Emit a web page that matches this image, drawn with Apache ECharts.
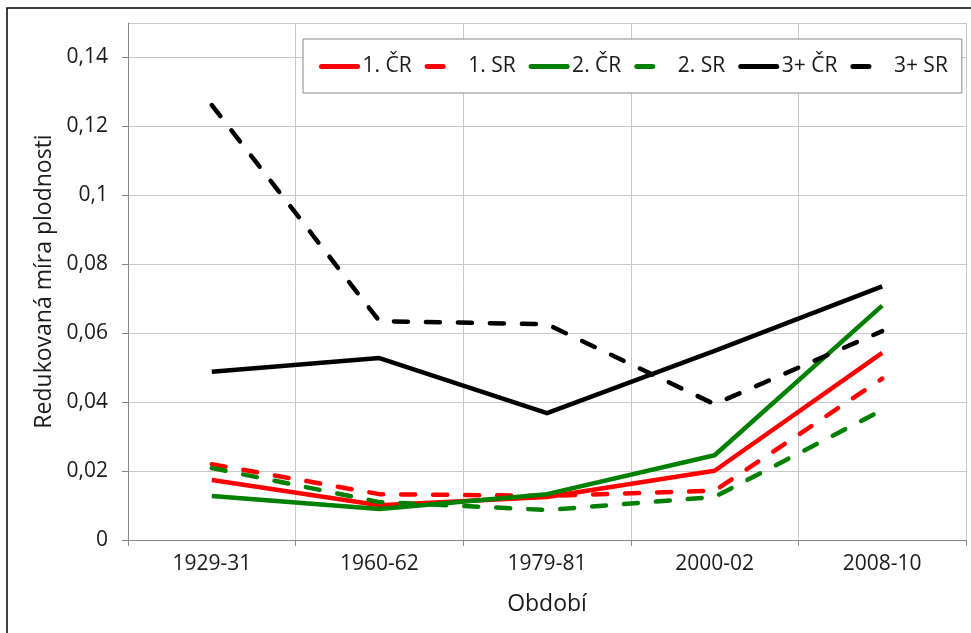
<!DOCTYPE html>
<html>
<head>
<meta charset="utf-8">
<script src="https://cdn.jsdelivr.net/npm/echarts@6/dist/echarts.min.js"></script>
<style>
  html, body { margin: 0; padding: 0; background: #fff; }
  #chart { width: 971px; height: 633px; }
</style>
</head>
<body>
<div id="chart"></div>
<script>
// Periods on the horizontal axis
const periods = ['1929-31', '1960-62', '1979-81', '2000-02', '2008-10'];

// Reduced fertility rate by birth order, Czech (ČR) and Slovak (SR) republics
const first_CR  = [0.0174, 0.0101, 0.0125, 0.0201, 0.0543];
const first_SR  = [0.0220, 0.0133, 0.0128, 0.0143, 0.0468];
const second_CR = [0.0128, 0.0090, 0.0133, 0.0246, 0.0680];
const second_SR = [0.0209, 0.0110, 0.0087, 0.0125, 0.0377];
const third_CR  = [0.0488, 0.0528, 0.0368, 0.0549, 0.0736];
const third_SR  = [0.1262, 0.0635, 0.0626, 0.0394, 0.0606];

const seriesNames = ['1. ČR', '1. SR', '2. ČR', '2. SR', '3+ ČR', '3+ SR'];
const dashedNames = ['1. SR', '2. SR', '3+ SR'];

const FONT = '"Open Sans", "DejaVu Sans", sans-serif';
const TEXT = '#1a1a1a';
const DASH = [14, 18];

function lineSeries(name, data, color, dashed) {
  return {
    name: name,
    type: 'line',
    data: data,
    symbol: 'none',
    lineStyle: {
      color: color,
      width: 4.5,
      type: dashed ? DASH : 'solid',
      cap: dashed ? 'round' : 'butt',
      join: 'round'
    },
    itemStyle: { color: color },
    emphasis: { disabled: true },
    animation: false
  };
}

// Legend swatches: a thick solid bar, or a single rounded dash
const legendData = seriesNames.map(function (n) {
  const dashed = dashedNames.indexOf(n) >= 0;
  return {
    name: n,
    lineStyle: dashed
      ? { width: 5, type: [16, 40], cap: 'round' }
      : { width: 5, type: 'solid', cap: 'round' }
  };
});

const chart = echarts.init(document.getElementById('chart'), null, { renderer: 'canvas' });

chart.setOption({
  animation: false,
  backgroundColor: '#fff',
  textStyle: { fontFamily: FONT },
  graphic: [{
    type: 'rect',
    shape: { x: 7, y: 8, width: 990, height: 660 },
    style: { fill: 'none', stroke: '#000', lineWidth: 1.5 },
    silent: true,
    z: 100
  }],
  grid: { left: 128, right: 5, top: 23, bottom: 93 },
  legend: {
    data: legendData,
    left: 303,
    top: 39,
    width: 660,
    orient: 'horizontal',
    itemWidth: 36,
    itemHeight: 14,
    itemGap: 13,
    padding: [17, 14, 16, 16],
    borderColor: '#888',
    borderWidth: 1,
    backgroundColor: '#fff',
    itemStyle: { opacity: 0, borderWidth: 0 },
    textStyle: { fontFamily: FONT, fontSize: 21, color: TEXT }
  },
  xAxis: {
    type: 'category',
    data: periods,
    boundaryGap: true,
    name: 'Období',
    nameLocation: 'middle',
    nameGap: 53,
    nameTextStyle: { fontFamily: FONT, fontSize: 23, color: TEXT },
    axisLine: { lineStyle: { color: '#888', width: 1 } },
    axisTick: { show: true, length: 6, inside: false, lineStyle: { color: '#888' } },
    axisLabel: { fontFamily: FONT, fontSize: 21, color: TEXT, margin: 14 },
    splitLine: { show: true, lineStyle: { color: '#c8c8c8', width: 1 } }
  },
  yAxis: {
    type: 'value',
    min: 0,
    max: 0.15,
    interval: 0.02,
    name: 'Redukovaná míra plodnosti',
    nameLocation: 'middle',
    nameGap: 70,
    nameRotate: 90,
    nameTextStyle: { fontFamily: FONT, fontSize: 23, color: TEXT },
    axisLine: { show: true, lineStyle: { color: '#888', width: 1 } },
    axisTick: { show: true, length: 6, lineStyle: { color: '#888' } },
    axisLabel: {
      fontFamily: FONT, fontSize: 21, color: TEXT, margin: 20,
      showMaxLabel: false,
      formatter: function (v) {
        return String(Math.round(v * 100) / 100).replace('.', ',');
      }
    },
    splitLine: { show: true, lineStyle: { color: '#c8c8c8', width: 1 } }
  },
  series: [
    lineSeries('1. ČR', first_CR, '#ff0000', false),
    lineSeries('1. SR', first_SR, '#ff0000', true),
    lineSeries('2. ČR', second_CR, '#008000', false),
    lineSeries('2. SR', second_SR, '#008000', true),
    lineSeries('3+ ČR', third_CR, '#000000', false),
    lineSeries('3+ SR', third_SR, '#000000', true)
  ]
});
</script>
</body>
</html>
